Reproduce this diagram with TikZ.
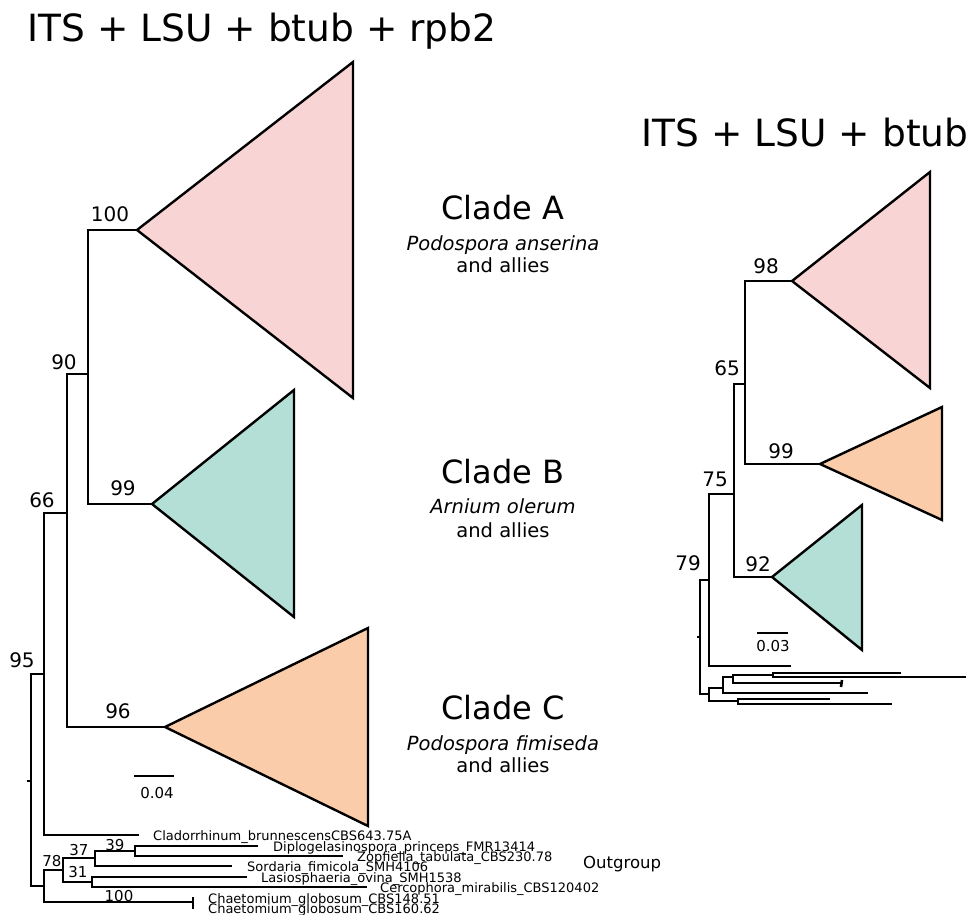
\documentclass[tikz,border=0pt]{standalone}
\usepackage{fontspec}
\setmainfont{DejaVu Sans}

\definecolor{cladeA}{HTML}{F9D4D5}
\definecolor{cladeB}{HTML}{B3DFD6}
\definecolor{cladeC}{HTML}{FBCCA9}

\tikzset{
	branch/.style={line width=2.6pt},
	clade/.style={line width=2.4pt, line join=miter},
	boot/.style={inner sep=0pt, font=\fontsize{20}{24}\selectfont},
	smallboot/.style={inner sep=0pt, font=\fontsize{15}{18}\selectfont},
	leaf/.style={inner sep=0pt, anchor=base west, font=\fontsize{13}{15}\selectfont},
	treetitle/.style={inner sep=0pt, anchor=base, font=\fontsize{37.5}{45}\selectfont},
	cladename/.style={inner sep=0pt, anchor=base, font=\fontsize{32}{38}\selectfont},
	cladenote/.style={inner sep=0pt, anchor=base, font=\fontsize{19.5}{23}\selectfont},
}

\begin{document}
\begin{tikzpicture}[x=1pt, y=-1pt]
	\useasboundingbox (0,0) rectangle (978,915);
	
	% left tree: ITS + LSU + btub + rpb2
	\node[treetitle] (titleL) at (262,42) {ITS + LSU + btub + rpb2};
	
	\coordinate (root) at (31,781);
	\coordinate (rootstub) at (27,781);
	\coordinate (n95) at (44,674);
	\coordinate (n66) at (67,513);
	\coordinate (n90) at (88,374);
	\coordinate (tipA) at (137,230);
	\coordinate (tipB) at (152,504);
	\coordinate (tipC) at (165,727);
	\coordinate (clad) at (139,835);
	\coordinate (n78) at (44,886);
	\coordinate (n70) at (63,870);
	\coordinate (n37) at (95,858);
	\coordinate (n39) at (135,851);
	\coordinate (n31) at (92,882);
	\coordinate (dipl) at (258,846);
	\coordinate (zopf) at (343,856);
	\coordinate (sord) at (232,866);
	\coordinate (lasi) at (247,877);
	\coordinate (cerc) at (367,887);
	\coordinate (chae) at (193,902);
	\coordinate (chaeA) at (193,897);
	\coordinate (chaeB) at (193,909);
	
	\draw[branch] (rootstub) -- (root);
	\draw[branch] (root) |- (n95);
	\draw[branch] (root) |- (n78);
	\draw[branch] (n95) |- (n66);
	\draw[branch] (n95) |- (clad);
	\draw[branch] (n66) |- (n90);
	\draw[branch] (n66) |- (tipC);
	\draw[branch] (n90) |- (tipA);
	\draw[branch] (n90) |- (tipB);
	\draw[branch] (n78) |- (n70);
	\draw[branch] (n78) |- (chae);
	\draw[branch] (n70) |- (n37);
	\draw[branch] (n70) |- (n31);
	\draw[branch] (n37) |- (n39);
	\draw[branch] (n37) |- (sord);
	\draw[branch] (n39) |- (dipl);
	\draw[branch] (n39) |- (zopf);
	\draw[branch] (n31) |- (lasi);
	\draw[branch] (n31) |- (cerc);
	\draw[branch] (chaeA) -- (chaeB);
	
	\filldraw[clade, fill=cladeA] (tipA) -- (353,62) -- (353,398) -- cycle;
	\filldraw[clade, fill=cladeB] (tipB) -- (294,390) -- (294,617) -- cycle;
	\filldraw[clade, fill=cladeC] (tipC) -- (368,628) -- (368,826) -- cycle;
	
	\node[boot] (bA) at (110,214) {100};
	\node[boot] (b90) at (64,362) {90};
	\node[boot] (bB) at (123,488) {99};
	\node[boot] (b66) at (42,500) {66};
	\node[boot] (b95) at (22,660) {95};
	\node[boot] (bC) at (118,711) {96};
	\node[smallboot] (b39) at (115,845) {39};
	\node[smallboot] (b37) at (79,850) {37};
	\node[smallboot] (b78) at (52,861) {78};
	\node[smallboot] (b31) at (78,872) {31};
	\node[smallboot] (b100) at (119,896) {100};
	
	\node[leaf] (lclad) at (153,840) {Cladorrhinum\_brunnescensCBS643.75A};
	\node[leaf] (ldipl) at (273,851) {Diplogelasinospora\_princeps\_FMR13414};
	\node[leaf] (lzopf) at (357,861) {Zopfiella\_tabulata\_CBS230.78};
	\node[leaf] (lsord) at (247,871) {Sordaria\_fimicola\_SMH4106};
	\node[leaf] (llasi) at (261,882) {Lasiosphaeria\_ovina\_SMH1538};
	\node[leaf] (lcerc) at (380,892) {Cercophora\_mirabilis\_CBS120402};
	\node[leaf] (lchaeA) at (208,903) {Chaetomium\_globosum\_CBS148.51};
	\node[leaf] (lchaeB) at (208,913) {Chaetomium\_globosum\_CBS160.62};
	\node[inner sep=0pt, anchor=west, font=\fontsize{16.5}{20}\selectfont] (outg) at (583,864) {Outgroup};
	
	\coordinate (barL1) at (134,776);
	\coordinate (barL2) at (174,776);
	\draw[branch] (barL1) -- (barL2);
	\node[smallboot] (barLtext) at (157,793) {0.04};
	
	\node[cladename] (nameA) at (503,219) {Clade A};
	\node[cladenote] (noteA) at (503,251) {\itshape Podospora anserina};
	\node[cladenote] (alliesA) at (503,272) {and allies};
	\node[cladename] (nameB) at (503,483) {Clade B};
	\node[cladenote] (noteB) at (503,513) {\itshape Arnium olerum};
	\node[cladenote] (alliesB) at (503,537) {and allies};
	\node[cladename] (nameC) at (503,719) {Clade C};
	\node[cladenote] (noteC) at (503,750) {\itshape Podospora fimiseda};
	\node[cladenote] (alliesC) at (503,772) {and allies};
	
	% right tree: ITS + LSU + btub
	\node[treetitle] (titleR) at (805,147) {ITS + LSU + btub};
	
	\coordinate (rroot) at (700,637);
	\coordinate (rrootstub) at (697,637);
	\coordinate (r79) at (709,580);
	\coordinate (r75) at (734,494);
	\coordinate (r65) at (745,384);
	\coordinate (rtipA) at (792,281);
	\coordinate (rtipC) at (820,464);
	\coordinate (rtipB) at (772,577);
	\coordinate (rlong) at (791,666);
	\coordinate (rog) at (709,694);
	\coordinate (rog1) at (723,688);
	\coordinate (rog2) at (733,677);
	\coordinate (rog3) at (773,675);
	\coordinate (rog4) at (738,701);
	\coordinate (rl1) at (901,673);
	\coordinate (rl2) at (966,677);
	\coordinate (rl3) at (842,683);
	\coordinate (rl3a) at (842,680);
	\coordinate (rl3b) at (841,687);
	\coordinate (rl4) at (868,693);
	\coordinate (rl5) at (830,699);
	\coordinate (rl6) at (892,704);
	
	\draw[branch] (rrootstub) -- (rroot);
	\draw[branch] (rroot) |- (r79);
	\draw[branch] (rroot) |- (rog);
	\draw[branch] (r79) |- (r75);
	\draw[branch] (r79) |- (rlong);
	\draw[branch] (r75) |- (r65);
	\draw[branch] (r75) |- (rtipB);
	\draw[branch] (r65) |- (rtipA);
	\draw[branch] (r65) |- (rtipC);
	\draw[branch] (rog) |- (rog1);
	\draw[branch] (rog) |- (rog4);
	\draw[branch] (rog1) |- (rog2);
	\draw[branch] (rog1) |- (rl4);
	\draw[branch] (rog2) |- (rog3);
	\draw[branch] (rog2) |- (rl3);
	\draw[branch] (rog3) |- (rl1);
	\draw[branch] (rog3) |- (rl2);
	\draw[branch] (rog4) |- (rl5);
	\draw[branch] (rog4) |- (rl6);
	\draw[branch] (rl3a) -- (rl3b);
	
	\filldraw[clade, fill=cladeA] (rtipA) -- (930,172) -- (930,388) -- cycle;
	\filldraw[clade, fill=cladeC] (rtipC) -- (942,407) -- (942,520) -- cycle;
	\filldraw[clade, fill=cladeB] (rtipB) -- (862,505) -- (862,650) -- cycle;
	
	\node[boot] (rbA) at (766,266) {98};
	\node[boot] (rb65) at (727,368) {65};
	\node[boot] (rbC) at (781,451) {99};
	\node[boot] (rb75) at (715,479) {75};
	\node[boot] (rbB) at (758,564) {92};
	\node[boot] (rb79) at (688,563) {79};
	
	\coordinate (barR1) at (757,633);
	\coordinate (barR2) at (788,633);
	\draw[branch] (barR1) -- (barR2);
	\node[smallboot] (barRtext) at (773,646) {0.03};
\end{tikzpicture}
\end{document}
